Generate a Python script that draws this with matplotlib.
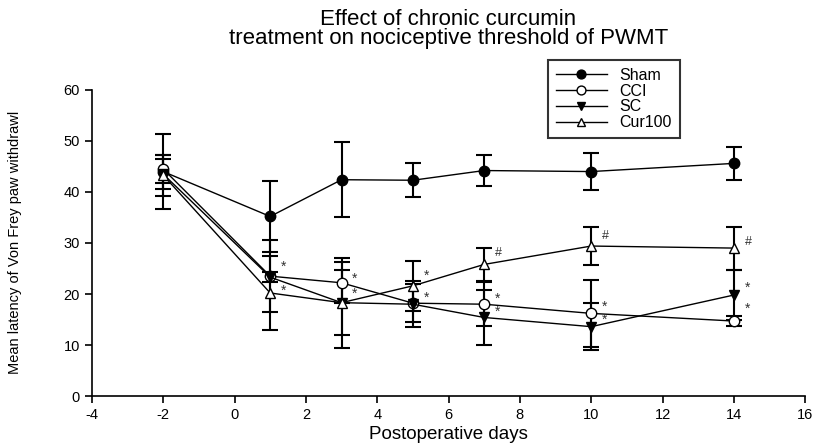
import numpy as np
import matplotlib
matplotlib.use("Agg")
import matplotlib.pyplot as plt

plt.rcParams['font.family'] = ['Liberation Sans', 'DejaVu Sans']
plt.rcParams['axes.unicode_minus'] = False

days = [-2, 1, 3, 5, 7, 10, 14]

sham = [44.0, 35.2, 42.4, 42.3, 44.2, 44.0, 45.6]
sham_err = [7.4, 7.0, 7.3, 3.3, 3.0, 3.6, 3.3]
cci = [44.5, 23.5, 22.2, 18.2, 18.0, 16.2, 14.7]
cci_err = [2.8, 7.0, 4.0, 3.7, 4.3, 6.6, 1.0]
sc = [43.5, 23.3, 18.3, 18.0, 15.4, 13.6, 19.8]
sc_err = [3.0, 1.0, 8.8, 4.5, 5.4, 4.6, 4.9]
cur100 = [43.3, 20.2, 18.3, 21.6, 25.8, 29.4, 29.0]
cur100_err = [4.0, 7.3, 6.4, 4.9, 3.3, 3.7, 4.2]

# significance marks: (day, y, symbol)
marks = [(1, 25.3, '*'), (1, 20.6, '*'),
         (3, 22.9, '*'), (3, 20.0, '*'),
         (5, 23.5, '*'), (5, 19.2, '*'),
         (7, 28.0, '#'), (7, 19.0, '*'), (7, 16.5, '*'),
         (10, 31.4, '#'), (10, 17.5, '*'), (10, 14.9, '*'),
         (14, 30.2, '#'), (14, 21.2, '*'), (14, 17.1, '*')]

fig = plt.figure(figsize=(8.2, 4.43), dpi=100)
ax = fig.add_axes([0.112, 0.106, 0.870, 0.691])

series = [
    ("Sham", sham, sham_err, 'o', 'black'),
    ("CCI", cci, cci_err, 'o', 'white'),
    ("SC", sc, sc_err, 'v', 'black'),
    ("Cur100", cur100, cur100_err, '^', 'white'),
]

# error bars first, then lines with markers on top
for name, vals, err, mk, fc in series:
    ax.errorbar(days, vals, yerr=err, fmt='none', ecolor='black',
                elinewidth=1.5, capsize=6, capthick=1.5, zorder=2)
for name, vals, err, mk, fc in series:
    ax.plot(days, vals, color='black', lw=1.0, marker=mk, markersize=7.5,
            markerfacecolor=fc, markeredgecolor='black', markeredgewidth=1.0,
            label=name, zorder=3)

for d, y, s in marks:
    ax.text(d + 0.3, y, s, fontsize=10 if s == '*' else 9, color='#333333',
            ha='left', va='center')

ax.set_xlim(-4, 16)
ax.set_ylim(0, 60)
ax.set_xticks(np.arange(-4, 17, 2))
ax.set_yticks(np.arange(0, 61, 10))
ax.tick_params(direction='out', length=5, width=1.2, labelsize=10.5)
for side in ['top', 'right']:
    ax.spines[side].set_visible(False)
for side in ['left', 'bottom']:
    ax.spines[side].set_linewidth(1.2)

ax.set_xlabel("Postoperative days", fontsize=13.5, labelpad=3)
ax.set_ylabel("Mean latency of Von Frey paw withdrawl", fontsize=10.5)
ax.yaxis.set_label_coords(-0.098, 0.503)

ax.set_title("Effect of chronic curcumin\ntreatment on nociceptive threshold of PWMT",
             fontsize=16, linespacing=0.85, pad=33)

leg = fig.legend(loc='upper left', bbox_to_anchor=(0.668, 0.865), fontsize=11.5,
                 frameon=True, fancybox=False, handlelength=3.2, labelspacing=0.05,
                 borderpad=0.5, handletextpad=0.8, borderaxespad=0, markerscale=0.85)
leg.get_frame().set_edgecolor('black')
leg.get_frame().set_linewidth(1.5)

fig.savefig("out.png", dpi=100)
